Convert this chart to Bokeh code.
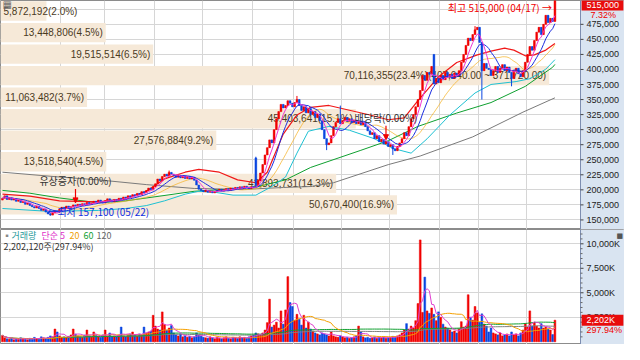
import numpy as np
import pandas as pd
from bokeh.plotting import figure
from bokeh.layouts import column
from bokeh.models import Range1d, FixedTicker, Label, Arrow, NormalHead
from bokeh.core.properties import value
from bokeh.embed import file_html
from bokeh.resources import INLINE

# ---------------- data (prices in thousand won, volumes in thousand shares) ----------------
closes_k = [
    186, 190, 184, 187, 183, 185, 181, 183, 179, 180, 176, 178, 174, 172, 170, 173, 169, 166, 168, 163,
    160, 158, 162, 165, 163,
    168, 171, 169, 173, 170, 172, 175, 173, 176,
    174, 177, 175, 179, 176, 178, 181, 179, 183, 180, 178, 182, 185,
    183, 180, 184, 182, 186, 184, 188, 186, 190, 188, 192, 190,
    194, 192, 197, 195, 199, 203, 200, 205, 210,
    218, 215, 222, 226, 223, 229, 226,
    224, 221, 224, 220, 223, 219, 222, 218, 221, 216,
    208, 201, 199,
    197, 199, 196, 198, 195, 197, 199, 201, 198, 200, 202, 199, 203, 201, 204, 202, 205, 203, 206, 204,
    202, 205, 204,
    207, 215, 228, 242, 258, 270,
    283, 278, 300, 318,
    330, 342, 336, 340, 348, 344, 338, 345, 350,
    340, 332, 338, 328, 335, 325, 330, 320, 326, 315,
    300, 285, 275, 278, 290,
    305, 312, 318, 310, 315, 320, 314, 318,
    312, 316, 310, 314, 308, 312, 305,
    298, 292, 295, 285, 290, 280, 284, 276,
    280, 272, 275, 268, 265, 272, 278,
    285, 295, 290, 305, 318, 325,
    338, 350, 365, 390, 382, 395,
    392, 405, 376, 385, 378, 390, 383, 395, 387, 392, 385, 394, 390,
    398, 412, 425, 440, 452, 448, 458, 466, 470, 445, 398,
    410, 402, 400, 390, 398, 405, 395, 402, 408, 398, 404, 395, 385, 398, 402, 393, 388,
    398, 412, 425, 438, 432, 448,
    462, 470, 458, 475,
    490, 478, 485, 479.873, 515,
]
open_gap_k = {0: 183, 111: 253, 189: 425}
high_wick_k = {73: 232, 111: 255, 129: 356, 148: 340, 207: 472, 242: 515}
low_wick_k = {21: 157.1, 142: 266, 171: 258, 210: 350, 223: 372}

volumes_k = [
    650, 400, 300, 250, 350, 200, 300, 250, 400, 300,
    250, 200, 350, 300, 450, 300, 250, 500, 400, 350,
    450, 600, 500, 1300, 1000, 600, 450, 500, 400, 550,
    700, 1300, 800, 600, 500, 450, 700, 1200, 600, 500,
    1000, 650, 500, 450, 700, 1200, 600, 900, 550, 600,
    500, 700, 1500, 600, 500, 650, 800, 1000, 700, 600,
    800, 700, 1500, 900, 1000, 1100, 2700, 1600, 1300, 1200,
    3050, 1750, 1200, 1400, 1650, 900, 700, 600, 800, 500,
    600, 450, 550, 400, 500, 900, 700, 600, 450, 400,
    350, 500, 400, 300, 450, 350, 300, 400, 500, 350,
    300, 450, 400, 350, 500, 400, 450, 350, 500, 600,
    700, 900, 800, 700, 900, 1200, 1950, 4350, 1500, 1700,
    2000, 1400, 3150, 1800, 3250, 6650, 4000, 3600, 2200, 2800,
    2300, 1700, 2700, 1400, 2000, 1300, 1100, 900, 800, 700,
    900, 800, 700, 600, 1000, 600, 500, 450, 600, 500,
    400, 450, 350, 400, 500, 600, 1600, 1000, 500, 400,
    450, 350, 400, 500, 350, 450, 400, 500, 350, 400,
    450, 550, 500, 600, 700, 900, 1200, 1850, 1300, 1600,
    1400, 2150, 3900, 10400, 3000, 6600, 3150, 2900, 3450, 2800,
    2150, 3050, 2500, 1800, 1500, 1400, 1200, 1000, 1100, 900,
    1300, 2050, 1500, 1600, 4800, 2500, 2200, 3600, 2950, 2000,
    2850, 1800, 1600, 1000, 1400, 900, 800, 700, 900, 600,
    700, 800, 600, 1000, 700, 800, 600, 900, 1200, 1850,
    1500, 3150, 1600, 2000, 1600, 1400, 1850, 1400, 1500, 1300,
    1200, 739.12, 2202.12,
]

high_date = "04/17"
low_date = "05/22"
event_names = ["유상증자(0.00%)", "배당락(0.00%)"]
event_idx = [32, 168]
month_start_idx = [26, 45, 67, 88, 110, 128, 149, 170, 192, 209, 230]

price_ticks = list(range(150000, 475001, 25000))
price_grid = list(range(150000, 500001, 25000))
vol_ticks = [2500, 5000, 7500, 10000]
vol_minor = [m for m in range(500, 11500, 500) if m % 2500]

vp_volumes = [5872192, 13448806, 19515514, 70116355, 11063482,
              45403641, 27576884, 13518540, 42893731, 50670400]
vp_range_text = "(407,040.00 ~ 371,720.00)"

red_line_idx = [0, 12, 25, 42, 54, 63, 71, 80, 86, 95, 103, 111, 116, 123, 129, 135, 143, 152,
                161, 169, 176, 182, 191, 199, 208, 214, 220, 224, 229, 233, 238, 242]
red_line_k = [192.8, 189.6, 181.7, 180.1, 184.9, 197.6, 218.2, 229.3, 234.0, 229.3, 216.6, 211.8,
              229.3, 292.7, 324.4, 337.1, 340.2, 332.3, 324.4, 316.5, 319.6, 348.2, 387.8, 411.6,
              424.3, 430.6, 435.4, 432.2, 422.7, 424.3, 432.2, 443.3]
cyan_line_idx = [0, 20, 42, 54, 63, 71, 80, 86, 93, 101, 111, 118, 124, 129, 134, 143, 152, 163,
                 171, 179, 186, 196, 207, 214, 225, 231, 238, 242]
cyan_line_k = [169.0, 164.3, 165.8, 169.0, 173.8, 181.7, 192.8, 197.6, 196.0, 191.2, 191.2, 205.5,
               221.3, 261.0, 297.4, 305.4, 299.0, 284.8, 268.9, 261.0, 284.8, 324.4, 360.9, 375.1,
               379.9, 384.6, 400.5, 416.3]
green_line_idx = [0, 12, 25, 42, 54, 69, 84, 97, 112, 124, 135, 157, 169, 182, 199, 214, 229, 241, 242]
green_line_k = [199.1, 194.4, 186.5, 178.5, 181.7, 189.6, 197.6, 200.7, 205.5, 216.6, 237.2, 265.7,
                281.6, 305.4, 327.6, 345.0, 371.9, 403.7, 408.4]
gray_line_idx = [0, 25, 42, 63, 84, 106, 123, 135, 145, 169, 183, 206, 228, 242]
gray_line_k = [229.3, 221.3, 216.6, 208.7, 202.3, 200.7, 203.9, 205.5, 211.8, 241.9, 256.2, 288.0,
               329.1, 352.9]

# ---------------- derived ----------------
assert len(closes_k) == len(volumes_k)
N = len(closes_k)
idx = np.arange(N)
close = np.array(closes_k, float) * 1000
opn = np.concatenate([[close[0]], close[:-1]])
for k, v in open_gap_k.items():
    opn[k] = v * 1000
high = np.maximum(opn, close)
low = np.minimum(opn, close)
for k, v in high_wick_k.items():
    high[k] = max(high[k], v * 1000)
for k, v in low_wick_k.items():
    low[k] = min(low[k], v * 1000)
up = close >= opn

RED = "#f00000"
BLUE = "#0a46e0"
AXBG = "#d9e4f1"
BEIGE = "#f6e9d8"
GRID = "#d6d6d6"
AXLINE = "#7d8db0"
ccol = np.where(up, RED, BLUE)

W, PH, VH = 624, 229, 115
PLOT_W = 580                       # chart area; the rest is the value-axis strip
AX0 = 253.2                        # x where the value-axis strip begins
X0 = -0.85
dpx = (AX0 - X0) / PLOT_W          # days per pixel
XR = Range1d(X0, X0 + W * dpx)
PMIN, PMAX = 134100, 514600
VMIN, VMAX = -280, 11460
ppx = (PMAX - PMIN) / PH
vpx = (VMAX - VMIN) / VH


def make_fig(ymin, ymax, h):
    f = figure(x_range=XR, y_range=Range1d(ymin, ymax), frame_width=W, frame_height=h,
               x_axis_location=None, y_axis_location=None, output_backend="svg",
               toolbar_location=None, min_border=0, background_fill_color="white",
               border_fill_color="white", outline_line_color="#8c8c8c")
    f.xgrid.ticker = FixedTicker(ticks=[m - 0.5 for m in month_start_idx])
    f.xgrid.grid_line_color = GRID
    f.ygrid.grid_line_color = GRID
    return f


def value_axis(f, ymin, ymax, ticks, labels, minor=(), grid=None):
    f.ygrid.ticker = FixedTicker(ticks=list(grid if grid is not None else ticks))
    f.quad(left=AX0, right=XR.end, bottom=ymin, top=ymax, fill_color=AXBG, line_color=None)
    f.segment(x0=AX0, y0=ymin, x1=AX0, y1=ymax, line_color=AXLINE, line_width=1)
    f.segment(x0=[AX0] * len(ticks), y0=ticks, x1=[AX0 + 3 * dpx] * len(ticks), y1=ticks,
              line_color="#444444", line_width=1)
    if len(minor):
        f.segment(x0=[AX0] * len(minor), y0=list(minor), x1=[AX0 + 2 * dpx] * len(minor),
                  y1=list(minor), line_color="#666666", line_width=1)
    f.text(x=[AX0] * len(ticks), y=ticks, text=labels, x_offset=6, text_align="left",
           text_baseline="middle", text_font=value("Liberation Sans"), text_font_size="9px",
           text_color="#222222")


# ---------------- price panel ----------------
p = make_fig(PMIN, PMAX, PH)

# volume profile
lo, hi = low.min(), high.max()
step = (hi - lo) / 10
edges = hi - step * np.arange(11)
mids = (edges[:-1] + edges[1:]) / 2
vp = np.array(vp_volumes, float)
frac = vp / vp.max()
vright = X0 + frac * 0.946 * (AX0 - X0)
p.hbar(y=mids, height=step * 0.9, left=X0, right=vright, fill_color=BEIGE, line_color=None)
total = vp.sum()
vp_text = [f"{int(v):,}({v / total * 100:.1f}%)" for v in vp]
imax = int(np.argmax(vp))
vp_text[imax] = vp_text[imax] + vp_range_text
long_bar = frac > 0.12
p.text(x=vright[long_bar], y=mids[long_bar], text=[t for t, b in zip(vp_text, long_bar) if b],
       text_align="right", text_baseline="middle", x_offset=-3,
       text_font=value("Liberation Sans"), text_font_size="10px", text_color="#4a3a1e")
p.text(x=[X0] * int((~long_bar).sum()), y=mids[~long_bar],
       text=[t for t, b in zip(vp_text, long_bar) if not b],
       text_align="left", text_baseline="middle", x_offset=3,
       text_font=value("Liberation Sans"), text_font_size="10px", text_color="#4a3a1e")

# moving averages
cs = pd.Series(close)
ma5 = cs.rolling(5, min_periods=1).mean()
ma10 = cs.rolling(10, min_periods=1).mean()
ma20 = cs.rolling(20, min_periods=1).mean()
p.line(gray_line_idx, np.array(gray_line_k) * 1000, line_color="#7a7a7a", line_width=1)
p.line(green_line_idx, np.array(green_line_k) * 1000, line_color="#0fa030", line_width=1)
p.line(cyan_line_idx, np.array(cyan_line_k) * 1000, line_color="#1ec0d2", line_width=1)
p.line(idx, ma20, line_color="#f5b020", line_width=1, line_alpha=0.7)
p.line(red_line_idx, np.array(red_line_k) * 1000, line_color="#f01818", line_width=1.2)

# candles
btop = np.maximum(opn, close)
bbot = np.minimum(opn, close)
btop = np.maximum(btop, bbot + ppx)
p.segment(x0=idx, y0=low, x1=idx, y1=high, line_color=ccol, line_width=1)
p.vbar(x=idx, width=0.78, top=btop, bottom=bbot, fill_color=ccol, line_color=ccol, line_width=0.5)

p.line(idx, ma10, line_color="#1c2ee0", line_width=1)
p.line(idx, ma5, line_color="#ee36d4", line_width=1)

# events
for name, ei in zip(event_names, event_idx):
    tip = high[ei] + 2 * ppx
    tail = tip + 14 * ppx
    p.add_layout(Arrow(end=NormalHead(size=5, fill_color=RED, line_color=RED),
                       x_start=ei, y_start=tail, x_end=ei, y_end=tip,
                       line_color=RED, line_width=1.2))
    p.text(x=[ei], y=[tail], text=[name], text_align="center", text_baseline="bottom",
           y_offset=-1, text_font=value("Noto Sans CJK KR"), text_font_size="10px",
           text_color="#333333")

# high / low labels
ih = int(np.argmax(high))
il = int(np.argmin(low))
p.text(x=[ih], y=[high[ih]], text=[f"최고 {high[ih]:,.0f} ({high_date}) →"], text_align="right",
       text_baseline="middle", x_offset=-3, y_offset=7, text_font=value("Noto Sans CJK KR"),
       text_font_size="10px", text_color=RED)
p.text(x=[il], y=[low[il]], text=[f"←최저 {low[il]:,.0f} ({low_date})"], text_align="left",
       text_baseline="middle", x_offset=-3, y_offset=-4, text_font=value("Noto Sans CJK KR"),
       text_font_size="10px", text_color="#1030e0")

value_axis(p, PMIN, PMAX, price_ticks, [f"{t:,}" for t in price_ticks], grid=price_grid)

# last price tag on the axis
chg = (close[-1] / close[-2] - 1) * 100
tag_y = min(close[-1], PMAX - 4.5 * ppx)
p.rect(x=[(AX0 + XR.end) / 2], y=[tag_y], width=(XR.end - AX0) * 0.95, height=11 * ppx,
       fill_color="#e80c0c", line_color=None)
p.text(x=[AX0], y=[tag_y], text=[f"{close[-1]:,.0f}"], x_offset=6, text_align="left",
       text_baseline="middle", text_font=value("Liberation Sans"), text_font_size="9px",
       text_color="white")
p.text(x=[AX0], y=[tag_y - 10 * ppx], text=[f"{chg:.2f}%"], x_offset=10, text_align="left",
       text_baseline="middle", text_font=value("Liberation Sans"), text_font_size="9px",
       text_color=RED)
p.add_layout(Label(x=2, y=PH - 9, x_units="screen", y_units="screen", text="▦",
                   text_font="DejaVu Sans", text_font_size="10px", text_color="#666666"))

# ---------------- volume panel ----------------
vol = np.array(volumes_k, float)
v = make_fig(VMIN, VMAX, VH)
v.vbar(x=idx, width=0.78, top=vol, bottom=0, fill_color=ccol, line_color=ccol, line_width=0.5)
vs = pd.Series(vol)
v.line(idx, vs.rolling(120, min_periods=1).mean(), line_color="#808080", line_width=1)
v.line(idx, vs.rolling(60, min_periods=1).mean(), line_color="#10a030", line_width=1)
v.line(idx, vs.rolling(20, min_periods=1).mean(), line_color="#f5a000", line_width=1)
v.line(idx, vs.rolling(5, min_periods=1).mean(), line_color="#e040d0", line_width=1)

value_axis(v, VMIN, VMAX, vol_ticks, [f"{t:,}K" for t in vol_ticks], minor=vol_minor)

legend_items = [("▪", "#888888", 2), ("거래량", "#1f9a9a", 11), ("단순 5", "#e030c8", 41),
                ("20", "#f0a000", 69), ("60", "#10a030", 83), ("120", "#666666", 96)]
for t, c, xx in legend_items:
    v.add_layout(Label(x=xx, y=VH - 6, x_units="screen", y_units="screen", text=t,
                       text_baseline="middle", text_color=c, text_font="Noto Sans CJK KR",
                       text_font_size="9px"))
vchg = vol[-1] / vol[-2] * 100
v.add_layout(Label(x=3, y=VH - 17, x_units="screen", y_units="screen",
                   text=f"{int(round(vol[-1] * 1000)):,}주({vchg:.2f}%)", text_baseline="middle",
                   text_color="#333333", text_font="Noto Sans CJK KR", text_font_size="9px"))
v.add_layout(Label(x=W - 8, y=VH - 6, x_units="screen", y_units="screen", text="■",
                   text_baseline="middle", text_color="#555555", text_font="DejaVu Sans",
                   text_font_size="7px"))
v.rect(x=[(AX0 + XR.end) / 2], y=[vol[-1]], width=(XR.end - AX0) * 0.95, height=11 * vpx,
       fill_color="#e80c0c", line_color=None)
v.text(x=[AX0], y=[vol[-1]], text=[f"{vol[-1]:,.0f}K"], x_offset=6, text_align="left",
       text_baseline="middle", text_font=value("Liberation Sans"), text_font_size="9px",
       text_color="white")
v.text(x=[AX0], y=[vol[-1] - 10 * vpx], text=[f"{vchg:.2f}%"], x_offset=6, text_align="left",
       text_baseline="middle", text_font=value("Liberation Sans"), text_font_size="9px",
       text_color=RED)

layout = column(p, v, spacing=0)
open("out.html", "w").write(file_html(layout, INLINE))
